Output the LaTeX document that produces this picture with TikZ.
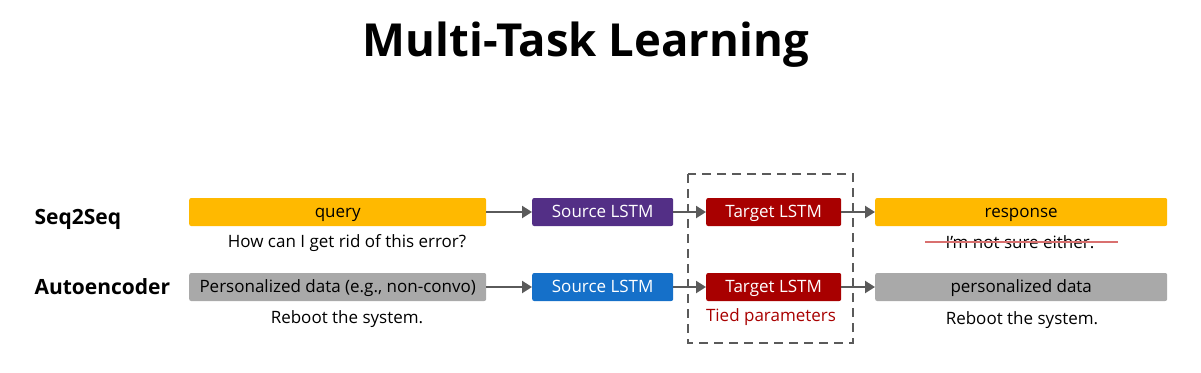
\documentclass[tikz,border=0pt]{standalone}
\usepackage{fontspec}
\setmainfont{Open Sans}
\usetikzlibrary{arrows.meta}
\definecolor{qyellow}{HTML}{FFB900}
\definecolor{srcpurple}{HTML}{532F86}
\definecolor{srcblue}{HTML}{1570C9}
\definecolor{tgtred}{HTML}{A80000}
\definecolor{datagray}{HTML}{A9A9A9}
\definecolor{arrowgray}{HTML}{5A5A5A}
\definecolor{strikered}{HTML}{D9706F}

\begin{document}
\begin{tikzpicture}[x=1pt,y=-1pt,
  box/.style={rounded corners=2pt,minimum height=28pt,inner sep=0pt,anchor=west,text height=12pt,text depth=1pt,font=\fontsize{17}{20}\selectfont},
  note/.style={font=\fontsize{17}{20}\selectfont},
  flow/.style={-{Triangle[length=10pt,width=12pt]},line width=2.2pt,arrowgray}]
\useasboundingbox (0,0) rectangle (1201,372);
\node (title) at (586,45) {\fontsize{45.5}{54}\selectfont\bfseries Multi-Task Learning};
\node[anchor=west] (seq) at (31,219) {\fontsize{21}{25}\selectfont\bfseries Seq2Seq};
\node[anchor=west] (auto) at (31,287) {\fontsize{21}{25}\selectfont\bfseries Autoencoder};
% Seq2Seq row
\node[box,fill=qyellow,minimum width=297pt] (query) at (189,212) {query};
\node[box,fill=srcpurple,text=white,minimum width=141pt] (src1) at (532,212) {Source LSTM};
\node[box,fill=tgtred,text=white,minimum width=135pt] (tgt1) at (706,212) {Target LSTM};
\node[box,fill=qyellow,minimum width=292pt] (resp) at (875,212) {response};
\node[note] (qtext) at (347,243) {How can I get rid of this error?};
\node[note] (rtext) at (1020,242) {I’m not sure either.};
\draw[strikered,line width=1.2pt] (925,242) -- (1118,242);
% Autoencoder row
\node[box,fill=datagray,minimum width=297pt] (pdata) at (189,287) {Personalized data (e.g., non-convo)};
\node[box,fill=srcblue,text=white,minimum width=141pt] (src2) at (532,287) {Source LSTM};
\node[box,fill=tgtred,text=white,minimum width=135pt] (tgt2) at (706,287) {Target LSTM};
\node[box,fill=datagray,minimum width=292pt] (pout) at (875,287) {personalized data};
\node[note] (ptext) at (347,319) {Reboot the system.};
\node[note] (otext) at (1022,320) {Reboot the system.};
\node[note,text=tgtred] (tied) at (771,317) {Tied parameters};
% shared decoder
\draw[arrowgray,line width=1.5pt,dash pattern=on 9pt off 6pt] (688,174) rectangle (853,343);
\draw[flow] (query) -- (src1);
\draw[flow] (src1) -- (tgt1);
\draw[flow] (tgt1) -- (resp);
\draw[flow] (pdata) -- (src2);
\draw[flow] (src2) -- (tgt2);
\draw[flow] (tgt2) -- (pout);
\end{tikzpicture}
\end{document}
